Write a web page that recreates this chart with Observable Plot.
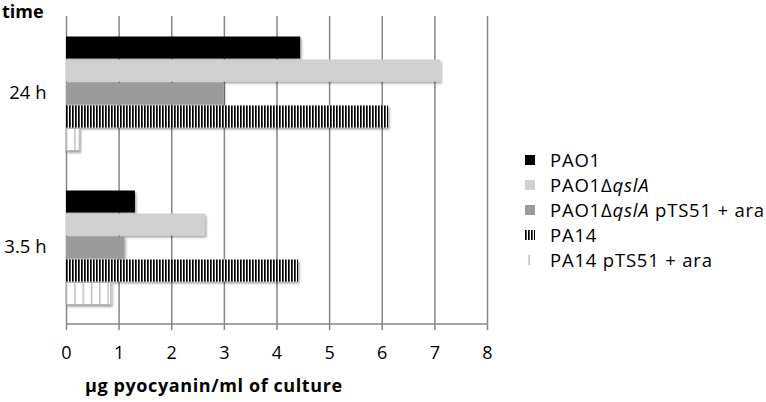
<!DOCTYPE html>
<html><head><meta charset="utf-8">
<script src="https://cdn.jsdelivr.net/npm/d3@7"></script>
<script src="https://cdn.jsdelivr.net/npm/@observablehq/plot@0.6"></script>
<style>
body{margin:0;background:#fff;}
#chart{width:766px;height:402px;}
</style></head>
<body><div id="chart"></div>
<script>
const times = ["24 h", "3.5 h"];
const series = ["PAO1", "PAO1ΔqslA", "PAO1ΔqslA pTS51 + ara", "PA14", "PA14 pTS51 + ara"];
const legendParts = [
  [["PAO1", false]],
  [["PAO1Δ", false], ["qslA", true]],
  [["PAO1Δ", false], ["qslA", true], [" pTS51 + ara", false]],
  [["PA14", false]],
  [["PA14 pTS51 + ara", false]]
];
const values24h = [4.45, 7.11, 2.99, 6.12, 0.25];
const values3_5h = [1.31, 2.64, 1.11, 4.41, 0.85];
const xTicks = [0, 1, 2, 3, 4, 5, 6, 7, 8];
const fills = ["#000000", "#d0d0d0", "#9b9b9b", "url(#stripes)", "url(#sparse)"];
const xTitle = "µg pyocyanin/ml of culture";
const yTitle = "time";

const rows = times.flatMap((t, i) => series.map((s, j) => ({
  time: t, series: s, value: (i === 0 ? values24h : values3_5h)[j]
})));

const W = 766, H = 402, mL = 66, mR = 279, mT = 15, mB = 78;
const font = "'Open Sans', sans-serif";

const chart = Plot.plot({
  width: W, height: H, marginLeft: mL, marginRight: mR, marginTop: mT, marginBottom: mB,
  style: {fontFamily: font, fontSize: "17px", color: "#000", background: "#fff", overflow: "visible"},
  x: {domain: [0, 8], label: null},
  y: {domain: series, paddingInner: 0, paddingOuter: 0.75, axis: null},
  fy: {domain: times, padding: 0, label: null, axis: null},
  color: {type: "identity"},
  marks: [
    Plot.gridX(xTicks, {stroke: "#858585", strokeOpacity: 1, strokeWidth: 1.5}),
    Plot.barX(rows, {
      x: "value", y: "series", fy: "time",
      fill: d => fills[series.indexOf(d.series)],
      stroke: d => d.series === "PA14 pTS51 + ara" ? "#b5b5b5" : "none",
      strokeWidth: 1,
      insetTop: 0.5, insetBottom: 0.5
    }),
    Plot.axisX(xTicks, {tickSize: 6, tickPadding: 16, stroke: "#858585", strokeWidth: 1.5, fontSize: 18, label: null, fill: "#000"}),
    Plot.axisFy({anchor: "left", tickSize: 0, tickPadding: 20, fontSize: 18.5, label: null, fill: "#000"})
  ]
});
document.getElementById("chart").appendChild(chart);

const svg = d3.select(chart);
const xs = chart.scale("x");
const x0 = xs.apply(0), x8 = xs.apply(8);
const defs = svg.insert("defs", ":first-child");
const st = defs.append("pattern").attr("id", "stripes").attr("patternUnits", "userSpaceOnUse")
  .attr("x", x0).attr("y", 0).attr("width", 3).attr("height", 10);
st.append("rect").attr("width", 3).attr("height", 10).attr("fill", "#fff");
st.append("rect").attr("width", 1.7).attr("height", 10).attr("fill", "#000");
const sp = defs.append("pattern").attr("id", "sparse").attr("patternUnits", "userSpaceOnUse")
  .attr("x", x0).attr("y", 0).attr("width", 8.3).attr("height", 10);
sp.append("rect").attr("width", 8.3).attr("height", 10).attr("fill", "#fff");
sp.append("rect").attr("width", 1.3).attr("height", 10).attr("fill", "#b5b5b5");
const f = defs.append("filter").attr("id", "shadow").attr("x", "-5%").attr("y", "-20%").attr("width", "120%").attr("height", "160%");
f.append("feDropShadow").attr("dx", 1.5).attr("dy", 2).attr("stdDeviation", 1.2)
  .attr("flood-color", "#000").attr("flood-opacity", 0.35);
svg.selectAll("g[aria-label='bar'] rect").attr("filter", "url(#shadow)");

// bottom axis line
svg.append("line").attr("x1", x0).attr("x2", x8).attr("y1", H - mB).attr("y2", H - mB)
  .attr("stroke", "#858585").attr("stroke-width", 1.5);

// titles
svg.append("text").attr("x", 2).attr("y", 18).attr("text-anchor", "start").attr("font-family", font).attr("font-weight", "bold")
  .attr("font-size", 18).attr("fill", "#000").text(yTitle);
svg.append("text").attr("x", 85).attr("y", 392).attr("text-anchor", "start").attr("font-family", font).attr("font-weight", "bold")
  .attr("font-size", 18).attr("letter-spacing", 0.6).attr("fill", "#000").text(xTitle);

// legend
const lg = svg.append("g").attr("font-family", font).attr("font-size", 18.5).attr("letter-spacing", 0.8).attr("text-anchor", "start");
series.forEach((s, i) => {
  const cy = 160 + i * 25;
  if (i === 4) {
    lg.append("rect").attr("x", 528.5).attr("y", cy - 5).attr("width", 1.3).attr("height", 10).attr("fill", "#b5b5b5");
  } else {
    lg.append("rect").attr("x", 525).attr("y", cy - 5).attr("width", 10).attr("height", 10).attr("fill", fills[i]);
  }
  const t = lg.append("text").attr("x", 550).attr("y", cy + 6.5).attr("fill", "#000");
  legendParts[i].forEach(([txt, it]) => {
    t.append("tspan").attr("font-style", it ? "italic" : null).text(txt);
  });
});
</script>
</body></html>
